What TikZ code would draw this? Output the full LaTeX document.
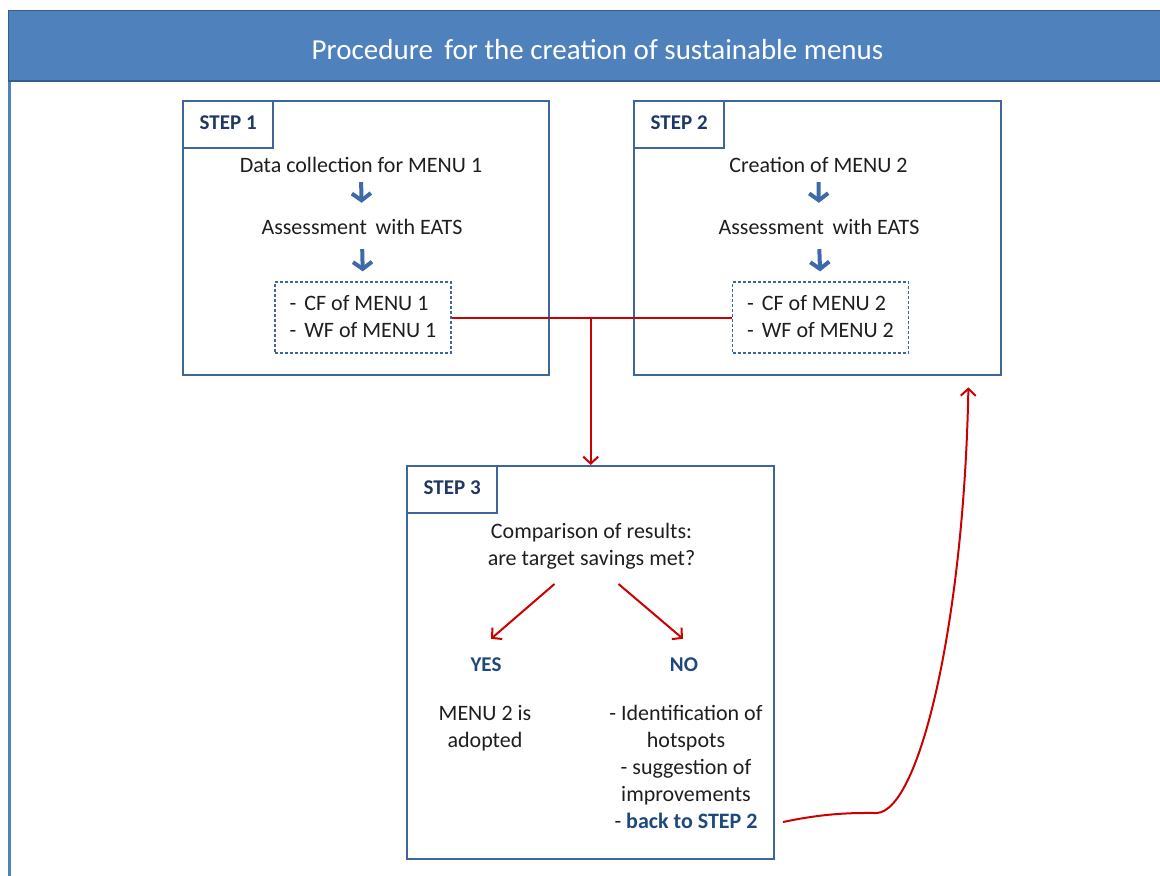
\documentclass[tikz,border=0pt]{standalone}
\usepackage{fontspec}
\setmainfont{Carlito}
\usetikzlibrary{arrows.meta,calc}

\definecolor{barblue}{RGB}{79,129,189}
\definecolor{barline}{RGB}{56,93,138}
\definecolor{boxblue}{RGB}{62,102,158}
\definecolor{arrowblue}{RGB}{62,106,170}
\definecolor{stepnavy}{RGB}{31,56,100}
\definecolor{accentnavy}{RGB}{31,73,125}
\definecolor{flowred}{RGB}{204,0,0}
\definecolor{bodytext}{RGB}{30,30,30}

\tikzset{
  stepbox/.style={draw=boxblue, line width=2.4pt, rectangle, inner sep=0pt, anchor=north west},
  steplabel/.style={draw=boxblue, line width=2.4pt, rectangle, inner sep=0pt, anchor=north west,
    minimum width=90pt, minimum height=47pt, text=stepnavy,
    font=\fontsize{21}{24}\selectfont\bfseries, text height=15pt, text depth=5pt},
  body/.style={text=bodytext, font=\fontsize{22}{27}\selectfont, inner sep=2pt, anchor=base},
  line/.style={body, text height=15pt, text depth=5pt},
  multiline/.style={body, align=center},
  answer/.style={line, text=accentnavy, font=\fontsize{21}{27}\selectfont\bfseries},
  resultbox/.style={draw=boxblue, line width=1.2pt, dash pattern=on 3pt off 2pt, rectangle,
    minimum width=176pt, minimum height=71pt, inner sep=0pt, align=left,
    text=bodytext, font=\fontsize{22}{27}\selectfont},
  bluearrow/.style={draw=arrowblue, line width=4pt, -{Straight Barb[length=7pt,width=19pt]}},
  redarrow/.style={draw=flowred, line width=2pt, -{Straight Barb[length=7pt,width=15pt]}},
  redline/.style={draw=flowred, line width=2pt}
}

\begin{document}
\begin{tikzpicture}[x=1pt,y=-1pt]
\useasboundingbox (0,0) rectangle (1160,876);

% page frame and title bar
\draw[barblue, line width=3pt] (9.5,80) -- (9.5,880);
\filldraw[fill=barblue, draw=barline, line width=1.5pt] (8.5,10.5) rectangle (1175,81);
\node[text=white, font=\fontsize{29}{32}\selectfont, anchor=base, inner sep=0pt] (title)
  at (597.5,59) {Procedure\, for the creation of sustainable menus};

% step boxes
\node[stepbox, minimum width=366pt, minimum height=274pt] (s1) at (182,100) {};
\node[stepbox, minimum width=367pt, minimum height=274pt] (s2) at (633,100) {};
\node[stepbox, minimum width=367pt, minimum height=393pt] (s3) at (406,465) {};

\node[steplabel] (l1) at (s1.north west) {STEP 1};
\node[steplabel] (l2) at (s2.north west) {STEP 2};
\node[steplabel] (l3) at (s3.north west) {STEP 3};

% step 1 contents
\node[line] (d1) at (361,172) {Data collection for MENU 1};
\node[line] (e1) at (362,234) {Assessment\, with EATS};
\node[resultbox] (c1) at (363,317.5) {\raisebox{2pt}{-\hspace{8pt}CF of MENU 1}\\\raisebox{2pt}{-\hspace{8pt}WF of MENU 1}};
\draw[bluearrow, shorten <=3pt, shorten >=14pt] (d1.south) -- (e1.north);
\draw[bluearrow, shorten <=8pt, shorten >=10pt] (e1.south) -- (c1.north);

% step 2 contents
\node[line] (d2) at (818.5,172) {Creation of MENU 2};
\node[line] (e2) at (819,234) {Assessment\, with EATS};
\node[resultbox] (c2) at (820.5,317.5) {\raisebox{2pt}{-\hspace{8pt}CF of MENU 2}\\\raisebox{2pt}{-\hspace{8pt}WF of MENU 2}};
\draw[bluearrow, shorten <=3pt, shorten >=14pt] (d2.south) -- (e2.north);
\draw[bluearrow, shorten <=8pt, shorten >=10pt] (e2.south) -- (c2.north);

% results of both menus feed the comparison
\draw[redline] (c1.east) -- (c2.west);
\draw[redarrow] (c1.east -| s3.north) -- (s3.north);

% step 3 contents (multi-line nodes are placed by their last baseline)
\node[multiline] (q) at (591.5,565) {Comparison of results:\\are target savings met?};
\node[answer] (yes) at (486,671) {YES};
\node[answer] (no) at (684,671) {NO};
\draw[redarrow] ($(q.south)+(-37,13)$) -- ($(yes.north)+(5,-15)$);
\draw[redarrow] ($(q.south)+(27,13)$) -- ($(no.north)+(-1,-15)$);

\node[multiline] (yt) at (485,747) {MENU 2 is\\adopted};
\node[multiline] (nt) at (686,828) {- Identification of\\hotspots\\- suggestion of\\improvements\\- {\bfseries\color{accentnavy}back to STEP 2}};

% loop back to step 2
\coordinate (ret) at (783,822);
\draw[redarrow] (ret) .. controls (830,812) and (860,813) .. (877,813)
  .. controls (920,810) and (964,620) .. ([xshift=-34pt,yshift=-11pt]s2.south east);
\end{tikzpicture}
\end{document}
